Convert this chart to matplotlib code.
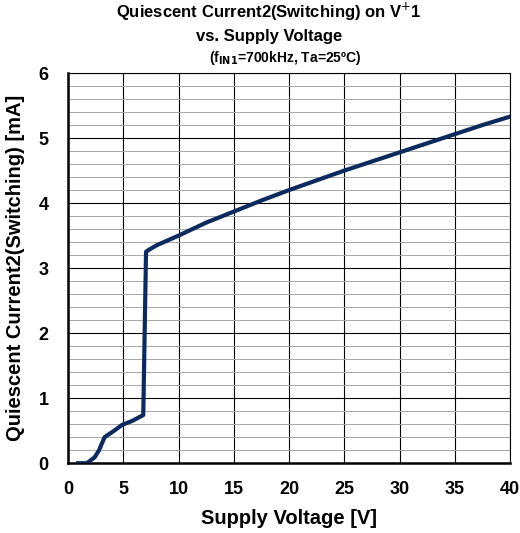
import matplotlib.pyplot as plt
from matplotlib.ticker import MultipleLocator

plt.rcParams['font.family'] = ['Liberation Sans', 'DejaVu Sans']

# Supply voltage [V] and quiescent current [mA]
voltage = [0.9, 1.7, 2.4, 2.8, 3.3, 4.0, 4.9, 5.8, 6.8, 7.05, 7.2, 8, 10, 12.5, 15, 17.5, 20, 22.5, 25, 27.5, 30, 32.5, 35, 37.5, 40]
current = [0.0, 0.0, 0.09, 0.2, 0.4, 0.48, 0.59, 0.65, 0.74, 3.25, 3.27, 3.35, 3.5, 3.7, 3.87, 4.04, 4.2, 4.35, 4.5, 4.64, 4.78, 4.92, 5.06, 5.2, 5.33]

fig = plt.figure(figsize=(5.2, 5.33), dpi=100)
ax = fig.add_axes([0.131, 0.131, 0.85, 0.732])

ax.plot(voltage, current, color='#0d2a5e', lw=3, solid_joinstyle='round', zorder=3)

ax.set_xlim(0, 40)
ax.set_ylim(0, 6)
ax.xaxis.set_major_locator(MultipleLocator(5))
ax.yaxis.set_major_locator(MultipleLocator(1))
ax.yaxis.set_minor_locator(MultipleLocator(0.2))
ax.grid(which='major', color='black', lw=0.8)
ax.grid(which='minor', axis='y', color='#a8a8a8', lw=0.7)
ax.tick_params(which='both', length=0, labelsize=13)
ax.tick_params(axis='x', pad=13)
ax.tick_params(axis='y', pad=14)
for lab in ax.get_xticklabels() + ax.get_yticklabels():
    lab.set_fontweight('bold')
for s in ['left', 'bottom']:
    ax.spines[s].set_linewidth(1.8)
for s in ['top', 'right']:
    ax.spines[s].set_linewidth(0.8)

ax.set_xlabel('Supply Voltage [V]', fontsize=14.5, fontweight='bold', labelpad=8)
ax.set_ylabel('Quiescent Current2(Switching) [mA]', fontsize=14.5, fontweight='bold', labelpad=10)

fig.text(0.517, 0.977, 'Quiescent Current2(Switching) on V$^{+}$1', ha='center', va='center',
         fontsize=12, fontweight='bold')
fig.text(0.517, 0.931, 'vs. Supply Voltage', ha='center', va='center', fontsize=12, fontweight='bold')
fig.text(0.548, 0.892, r'(f$_{\mathbf{IN1}}$=700kHz, Ta=25ºC)', ha='center', va='center',
         fontsize=10, fontweight='bold')

fig.savefig('out.png', dpi=100)
